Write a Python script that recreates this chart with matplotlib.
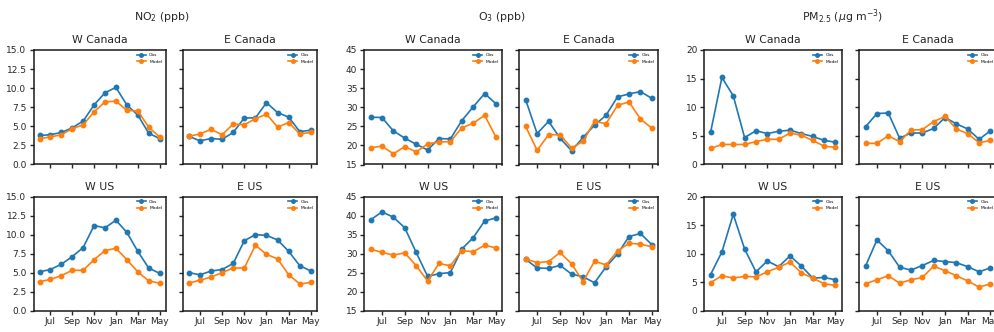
import matplotlib
matplotlib.use("Agg")
import matplotlib.pyplot as plt
import numpy as np

months = ["Jun", "Jul", "Aug", "Sep", "Oct", "Nov", "Dec", "Jan", "Feb", "Mar", "Apr", "May"]
tick_labels = ["Jul", "Sep", "Nov", "Jan", "Mar", "May"]
regions = ["W Canada", "E Canada", "W US", "E US"]
species_titles = ["NO$_2$ (ppb)", "O$_3$ (ppb)", "PM$_{2.5}$ ($\\mu$g m$^{-3}$)"]

# NO2 (ppb)
no2_wcan_obs = [3.8, 3.9, 4.2, 4.8, 5.7, 7.8, 9.4, 10.1, 7.8, 6.5, 4.1, 3.4]
no2_wcan_mod = [3.4, 3.6, 3.9, 4.7, 5.2, 6.9, 8.2, 8.3, 7.1, 7.0, 4.9, 3.6]
no2_ecan_obs = [3.7, 3.1, 3.4, 3.3, 4.2, 6.1, 6.1, 8.1, 6.8, 6.2, 4.3, 4.5]
no2_ecan_mod = [3.7, 4.0, 4.6, 3.9, 5.3, 5.2, 6.0, 6.6, 4.9, 5.5, 4.0, 4.2]
no2_wus_obs = [5.1, 5.4, 6.1, 7.1, 8.3, 11.2, 10.9, 11.9, 10.3, 7.8, 5.6, 4.9]
no2_wus_mod = [3.8, 4.1, 4.6, 5.3, 5.3, 6.7, 7.9, 8.2, 6.7, 5.1, 3.9, 3.6]
no2_eus_obs = [5.0, 4.7, 5.2, 5.4, 6.2, 9.2, 10.0, 9.9, 9.3, 7.8, 5.9, 5.2]
no2_eus_mod = [3.6, 4.0, 4.4, 5.0, 5.6, 5.6, 8.6, 7.4, 6.8, 4.7, 3.5, 3.7]

# O3 (ppb)
o3_wcan_obs = [27.4, 27.3, 23.8, 21.9, 20.3, 18.8, 21.8, 21.7, 26.5, 30.1, 33.6, 30.9]
o3_wcan_mod = [19.4, 19.8, 17.8, 19.7, 18.3, 20.4, 20.9, 21.0, 24.6, 25.8, 27.9, 22.1]
o3_ecan_obs = [32.0, 23.1, 26.3, 21.9, 18.6, 22.1, 25.3, 27.9, 32.7, 33.5, 34.1, 32.3]
o3_ecan_mod = [25.0, 18.7, 22.8, 22.8, 19.3, 21.1, 26.3, 25.7, 30.5, 31.4, 26.9, 24.5]
o3_wus_obs = [38.9, 41.0, 39.6, 36.8, 30.3, 24.0, 24.7, 25.0, 31.2, 34.2, 38.6, 39.4]
o3_wus_mod = [31.2, 30.3, 29.6, 30.2, 26.8, 22.8, 27.4, 26.8, 30.8, 30.5, 32.2, 31.5]
o3_eus_obs = [28.5, 26.2, 26.1, 26.9, 24.6, 23.9, 22.3, 26.5, 29.9, 34.5, 35.3, 32.3]
o3_eus_mod = [28.6, 27.6, 27.9, 30.3, 27.3, 22.6, 28.0, 27.0, 30.7, 32.7, 32.5, 31.8]

# PM2.5 (ug m-3)
pm_wcan_obs = [5.6, 15.2, 12.0, 4.7, 5.9, 5.4, 5.8, 6.0, 5.4, 4.9, 4.2, 3.9]
pm_wcan_mod = [2.8, 3.5, 3.5, 3.5, 4.0, 4.4, 4.4, 5.5, 5.1, 4.2, 3.2, 3.0]
pm_ecan_obs = [6.6, 8.9, 9.0, 4.6, 5.5, 5.5, 6.3, 8.2, 7.1, 6.2, 4.4, 5.9]
pm_ecan_mod = [3.7, 3.7, 5.0, 4.0, 6.0, 6.1, 7.5, 8.4, 6.2, 5.4, 3.8, 4.2]
pm_wus_obs = [6.3, 10.3, 16.9, 10.8, 6.8, 8.7, 7.7, 9.6, 7.8, 5.7, 5.8, 5.4]
pm_wus_mod = [4.9, 6.1, 5.7, 6.0, 5.9, 6.8, 7.6, 8.5, 6.6, 5.7, 4.7, 4.4]
pm_eus_obs = [7.8, 12.4, 10.5, 7.6, 7.1, 7.9, 8.8, 8.6, 8.4, 7.7, 6.8, 7.5]
pm_eus_mod = [4.7, 5.4, 6.1, 4.8, 5.4, 5.8, 7.8, 7.0, 6.1, 5.2, 4.1, 4.7]

species_data = [
    [(no2_wcan_obs, no2_wcan_mod), (no2_ecan_obs, no2_ecan_mod),
     (no2_wus_obs, no2_wus_mod), (no2_eus_obs, no2_eus_mod)],
    [(o3_wcan_obs, o3_wcan_mod), (o3_ecan_obs, o3_ecan_mod),
     (o3_wus_obs, o3_wus_mod), (o3_eus_obs, o3_eus_mod)],
    [(pm_wcan_obs, pm_wcan_mod), (pm_ecan_obs, pm_ecan_mod),
     (pm_wus_obs, pm_wus_mod), (pm_eus_obs, pm_eus_mod)],
]
y_limits = [(0, 15), (15, 45), (0, 20)]
y_steps = [2.5, 5, 5]
y_fmt = ["{:.1f}", "{:.0f}", "{:.0f}"]

W, H = 995, 332
fig = plt.figure(figsize=(W / 100, H / 100), dpi=100)
fig.patch.set_facecolor("white")

TXT = "#262626"

def rect(l, r, t, b):
    return [l / W, 1 - b / H, (r - l) / W, (b - t) / H]

rows = [(50, 164.5), (196.7, 310.5)]
cols = [
    [(33.5, 165.6), (182.7, 317.0)],
    [(364.3, 502.3), (519.3, 658.3)],
    [(704.3, 841.7), (859.3, 996.7)],
]
title_x = [162, 502, 842]

x = np.arange(len(months))
tick_pos = [months.index(m) for m in tick_labels]

for s in range(3):
    fig.text(title_x[s] / W, 1 - 17 / H, species_titles[s], ha="center", va="center",
             fontsize=7.8, color=TXT)
    for k in range(4):
        r, c = divmod(k, 2)
        l, rr = cols[s][c]
        t, b = rows[r]
        ax = fig.add_axes(rect(l, rr, t, b))
        obs, mod = species_data[s][k]
        ax.plot(x, obs, "-o", color="#1f77b4", lw=1.2, ms=3.2, label="Obs")
        ax.plot(x, mod, "-o", color="#ff7f0e", lw=1.2, ms=3.2, label="Model")
        ax.set_xlim(-0.55, 11.55)
        lo, hi = y_limits[s]
        ax.set_ylim(lo, hi)
        yt = np.arange(lo, hi + 1e-9, y_steps[s])
        ax.set_yticks(yt)
        ax.set_xticks(tick_pos)
        if c == 0:
            ax.set_yticklabels([y_fmt[s].format(v) for v in yt])
        else:
            ax.set_yticklabels([])
        if r == 1:
            ax.set_xticklabels(tick_labels)
        else:
            ax.set_xticklabels([])
        ax.tick_params(direction="out", length=3, width=1.0, labelsize=6.5,
                       pad=2, colors=TXT, labelcolor=TXT)
        for sp in ax.spines.values():
            sp.set_linewidth(1.1)
            sp.set_color("#1a1a1a")
        ax.set_title(regions[k], fontsize=7.8, color=TXT, pad=5)
        ax.legend(loc="upper right", fontsize=3.2, frameon=False,
                  borderaxespad=0.3, handlelength=2.0, markerscale=0.8)

fig.savefig("out.png", dpi=100, facecolor="white")
